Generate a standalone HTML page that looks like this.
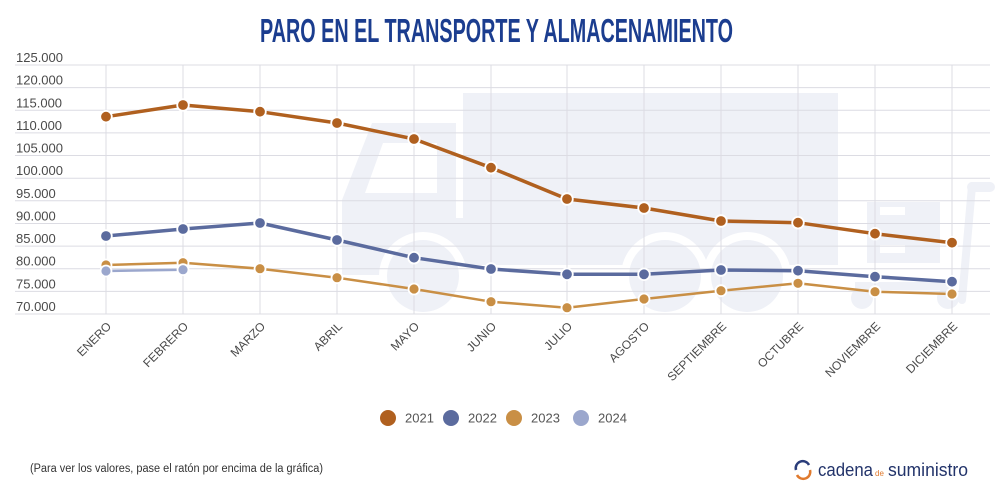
<!DOCTYPE html>
<html><head><meta charset="utf-8"><style>
html,body{margin:0;padding:0;background:#fff;}
svg{display:block;}
text{font-family:"Liberation Sans",sans-serif;}
</style></head><body>
<svg width="1000" height="500" viewBox="0 0 1000 500" xmlns="http://www.w3.org/2000/svg">
<rect width="1000" height="500" fill="#fff"/>
<!-- title -->
<text x="260" y="42" font-size="33" font-weight="bold" fill="#1b3d8f" textLength="473" lengthAdjust="spacingAndGlyphs">PARO EN EL TRANSPORTE Y ALMACENAMIENTO</text>

<!-- watermark truck -->
<g fill="#eff1f7">
<rect x="463" y="93" width="375" height="172"/>
<polygon points="463,123 372,123 342,200 342,265 463,265"/>
<rect x="342" y="230" width="60" height="45"/>
</g>
<polygon points="383,143 437,143 437,193 365,193" fill="#fff"/>
<rect x="456" y="123" width="7" height="95" fill="#fff"/>
<g>
<circle cx="423" cy="276" r="44" fill="#fff"/>
<circle cx="423" cy="276" r="36" fill="#eff1f7"/>
<circle cx="665" cy="276" r="44" fill="#fff"/>
<circle cx="747" cy="276" r="44" fill="#fff"/>
<circle cx="665" cy="276" r="36" fill="#eff1f7"/>
<circle cx="747" cy="276" r="36" fill="#eff1f7"/>
</g>
<!-- dolly -->
<g fill="#eff1f7">
<rect x="867" y="202" width="73" height="61"/>
<circle cx="862" cy="298" r="11"/>
<circle cx="948" cy="298" r="11"/>
<rect x="855" y="282" width="100" height="8"/>
</g>
<rect x="880" y="207" width="25" height="8" fill="#fff"/>
<rect x="880" y="245" width="25" height="8" fill="#fff"/>
<line x1="962" y1="300" x2="972" y2="186" stroke="#eff1f7" stroke-width="8" stroke-linecap="round"/>
<line x1="972" y1="187" x2="990" y2="187" stroke="#eff1f7" stroke-width="10" stroke-linecap="round"/>

<!-- gridlines -->
<g stroke="#dcdce3" stroke-width="1">
<line x1="15" y1="65" x2="990" y2="65"/>
<line x1="15" y1="87.6" x2="990" y2="87.6"/>
<line x1="15" y1="110.3" x2="990" y2="110.3"/>
<line x1="15" y1="132.9" x2="990" y2="132.9"/>
<line x1="15" y1="155.5" x2="990" y2="155.5"/>
<line x1="15" y1="178.2" x2="990" y2="178.2"/>
<line x1="15" y1="200.8" x2="990" y2="200.8"/>
<line x1="15" y1="223.5" x2="990" y2="223.5"/>
<line x1="15" y1="246.1" x2="990" y2="246.1"/>
<line x1="15" y1="268.7" x2="990" y2="268.7"/>
<line x1="15" y1="291.4" x2="990" y2="291.4"/>
<line x1="15" y1="314" x2="990" y2="314"/>
<line x1="106" y1="65" x2="106" y2="314"/>
<line x1="183" y1="65" x2="183" y2="314"/>
<line x1="260" y1="65" x2="260" y2="314"/>
<line x1="337" y1="65" x2="337" y2="314"/>
<line x1="414" y1="65" x2="414" y2="314"/>
<line x1="491" y1="65" x2="491" y2="314"/>
<line x1="567" y1="65" x2="567" y2="314"/>
<line x1="644" y1="65" x2="644" y2="314"/>
<line x1="721" y1="65" x2="721" y2="314"/>
<line x1="798" y1="65" x2="798" y2="314"/>
<line x1="875" y1="65" x2="875" y2="314"/>
<line x1="952" y1="65" x2="952" y2="314"/>
</g>

<!-- y labels -->
<g font-size="13" fill="#4a4a4a">
<text x="16" y="62">125.000</text>
<text x="16" y="84.6">120.000</text>
<text x="16" y="107.3">115.000</text>
<text x="16" y="129.9">110.000</text>
<text x="16" y="152.5">105.000</text>
<text x="16" y="175.2">100.000</text>
<text x="16" y="197.8">95.000</text>
<text x="16" y="220.5">90.000</text>
<text x="16" y="243.1">85.000</text>
<text x="16" y="265.7">80.000</text>
<text x="16" y="288.4">75.000</text>
<text x="16" y="311">70.000</text>
</g>

<!-- x labels -->
<g font-size="12" fill="#4a4a4a" text-anchor="end">
<text transform="translate(112,327) rotate(-45)">ENERO</text>
<text transform="translate(189,327) rotate(-45)">FEBRERO</text>
<text transform="translate(266,327) rotate(-45)">MARZO</text>
<text transform="translate(343,327) rotate(-45)">ABRIL</text>
<text transform="translate(420,327) rotate(-45)">MAYO</text>
<text transform="translate(497,327) rotate(-45)">JUNIO</text>
<text transform="translate(573,327) rotate(-45)">JULIO</text>
<text transform="translate(650,327) rotate(-45)">AGOSTO</text>
<text transform="translate(727,327) rotate(-45)">SEPTIEMBRE</text>
<text transform="translate(804,327) rotate(-45)">OCTUBRE</text>
<text transform="translate(881,327) rotate(-45)">NOVIEMBRE</text>
<text transform="translate(958,327) rotate(-45)">DICIEMBRE</text>
</g>

<!-- series 2023 -->
<polyline fill="none" stroke="#c98f45" stroke-width="2.5" stroke-linejoin="round" points="106,265 183,262.7 260,268.7 337,277.7 414,289 491,301.7 567,307.7 644,299 721,290.7 798,283.3 875,291.7 952,294"/>
<g fill="#c98f45" stroke="#fff" stroke-width="1.8">
<circle cx="106" cy="265" r="5.5"/><circle cx="183" cy="262.7" r="5.5"/><circle cx="260" cy="268.7" r="5.5"/><circle cx="337" cy="277.7" r="5.5"/><circle cx="414" cy="289" r="5.5"/><circle cx="491" cy="301.7" r="5.5"/><circle cx="567" cy="307.7" r="5.5"/><circle cx="644" cy="299" r="5.5"/><circle cx="721" cy="290.7" r="5.5"/><circle cx="798" cy="283.3" r="5.5"/><circle cx="875" cy="291.7" r="5.5"/><circle cx="952" cy="294" r="5.5"/>
</g>
<!-- series 2024 -->
<polyline fill="none" stroke="#9ba7cd" stroke-width="2.5" points="106,271 183,269.7"/>
<g fill="#9ba7cd" stroke="#fff" stroke-width="1.8">
<circle cx="106" cy="271" r="5.5"/><circle cx="183" cy="269.7" r="5.5"/>
</g>
<!-- series 2022 -->
<polyline fill="none" stroke="#5b6b9e" stroke-width="3.5" stroke-linejoin="round" points="106,236 183,229 260,223 337,240 414,257.7 491,269 567,274.3 644,274.3 721,270 798,270.7 875,276.7 952,281.7"/>
<g fill="#5b6b9e" stroke="#fff" stroke-width="1.8">
<circle cx="106" cy="236" r="5.8"/><circle cx="183" cy="229" r="5.8"/><circle cx="260" cy="223" r="5.8"/><circle cx="337" cy="240" r="5.8"/><circle cx="414" cy="257.7" r="5.8"/><circle cx="491" cy="269" r="5.8"/><circle cx="567" cy="274.3" r="5.8"/><circle cx="644" cy="274.3" r="5.8"/><circle cx="721" cy="270" r="5.8"/><circle cx="798" cy="270.7" r="5.8"/><circle cx="875" cy="276.7" r="5.8"/><circle cx="952" cy="281.7" r="5.8"/>
</g>
<!-- series 2021 -->
<polyline fill="none" stroke="#b0601f" stroke-width="3.5" stroke-linejoin="round" points="106,116.7 183,105 260,111.7 337,123 414,139 491,167.7 567,199 644,208 721,221 798,222.7 875,233.7 952,242.7"/>
<g fill="#b0601f" stroke="#fff" stroke-width="1.8">
<circle cx="106" cy="116.7" r="5.8"/><circle cx="183" cy="105" r="5.8"/><circle cx="260" cy="111.7" r="5.8"/><circle cx="337" cy="123" r="5.8"/><circle cx="414" cy="139" r="5.8"/><circle cx="491" cy="167.7" r="5.8"/><circle cx="567" cy="199" r="5.8"/><circle cx="644" cy="208" r="5.8"/><circle cx="721" cy="221" r="5.8"/><circle cx="798" cy="222.7" r="5.8"/><circle cx="875" cy="233.7" r="5.8"/><circle cx="952" cy="242.7" r="5.8"/>
</g>

<!-- legend -->
<g font-size="13" fill="#555">
<circle cx="388" cy="418" r="8" fill="#b0601f"/><text x="405" y="422.5">2021</text>
<circle cx="451" cy="418" r="8" fill="#5b6b9e"/><text x="468" y="422.5">2022</text>
<circle cx="514" cy="418" r="8" fill="#c98f45"/><text x="531" y="422.5">2023</text>
<circle cx="581" cy="418" r="8" fill="#9ba7cd"/><text x="598" y="422.5">2024</text>
</g>

<!-- footer -->
<text x="30" y="472" font-size="11.5" fill="#333" textLength="293" lengthAdjust="spacingAndGlyphs">(Para ver los valores, pase el ratón por encima de la gráfica)</text>

<!-- logo -->
<path d="M 809 465 A 7 7 0 0 0 796 470" fill="none" stroke="#2a3d7a" stroke-width="2.5"/>
<path d="M 797 475 A 7 7 0 0 0 810 470" fill="none" stroke="#e07a2e" stroke-width="2.5"/>
<text x="818" y="476" font-size="18" fill="#22336a" textLength="55" lengthAdjust="spacingAndGlyphs">cadena</text>
<text x="875" y="476" font-size="8" fill="#e07a2e">de</text>
<text x="888" y="476" font-size="18" fill="#22336a" textLength="80" lengthAdjust="spacingAndGlyphs">suministro</text>
</svg>
</body></html>
